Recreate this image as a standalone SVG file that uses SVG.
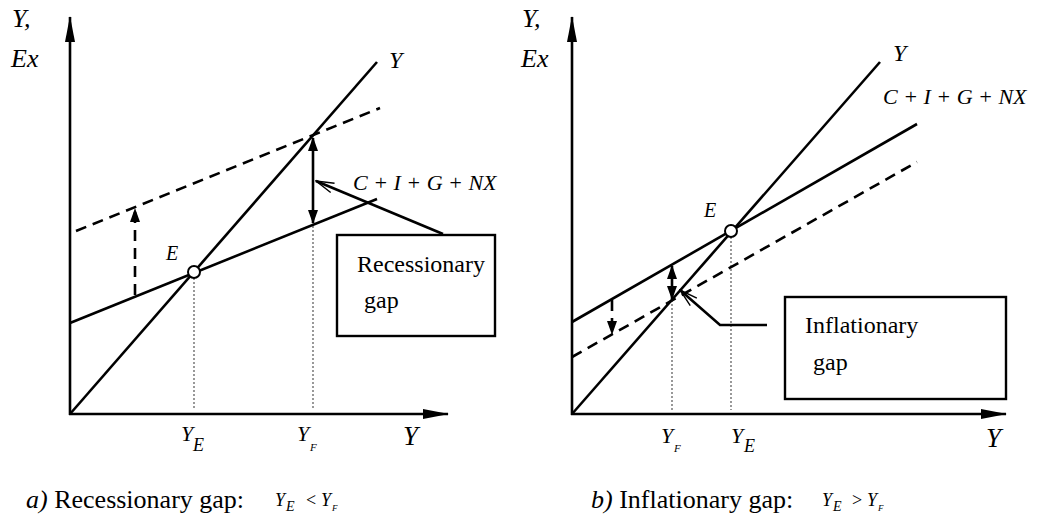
<svg xmlns="http://www.w3.org/2000/svg" width="1040" height="526" viewBox="0 0 1040 526" font-family="Liberation Serif, Times New Roman, DejaVu Serif, serif">
<defs>
<style>
.ax{stroke:#000;stroke-width:2.6;fill:none}
.ln{stroke:#000;stroke-width:2.6;fill:none}
.ds{stroke:#000;stroke-width:2.6;fill:none;stroke-dasharray:11 7}
.dt{stroke:#555;stroke-width:1.2;fill:none;stroke-dasharray:2 2}
.bx{stroke:#000;stroke-width:2.4;fill:#fff}
.mi{font-style:italic;fill:#000}
.rm{fill:#000}
</style>
<marker id="ah" viewBox="0 0 14 10" refX="13" refY="5" markerWidth="14" markerHeight="10" markerUnits="userSpaceOnUse" orient="auto-start-reverse">
<path d="M0,0 L14,5 L0,10 z" fill="#000"/>
</marker>
<marker id="ab" viewBox="0 0 26 10" refX="25" refY="5" markerWidth="26" markerHeight="10" markerUnits="userSpaceOnUse" orient="auto">
<path d="M0,0 L26,5 L0,10 z" fill="#000"/>
</marker>
<marker id="ap" viewBox="0 0 20 12" refX="19" refY="6" markerWidth="20" markerHeight="12" markerUnits="userSpaceOnUse" orient="auto">
<path d="M1,1 L19,6 L1,11" fill="none" stroke="#000" stroke-width="1.4"/>
</marker>
</defs>

<g id="connectors">
<line class="ax" x1="70" y1="415" x2="70" y2="17" marker-end="url(#ab)"/>
<line class="ax" x1="69" y1="414" x2="448" y2="414" marker-end="url(#ab)"/>
<line class="dt" x1="194" y1="278" x2="194" y2="410"/>
<line class="dt" x1="313" y1="226" x2="313" y2="410"/>
<line class="ln" x1="70" y1="414" x2="377" y2="62"/>
<line class="ln" x1="70" y1="323" x2="377" y2="199"/>
<line class="ds" x1="76" y1="231" x2="380" y2="108"/>
<line class="ln" x1="313" y1="138" x2="313" y2="223" marker-start="url(#ah)" marker-end="url(#ah)"/>
<line class="ds" x1="135" y1="295" x2="135" y2="209" stroke-dasharray="10 6" marker-end="url(#ah)"/>
<line class="ln" x1="443" y1="234" x2="316" y2="181" marker-end="url(#ap)"/>
<line class="ax" x1="572" y1="415" x2="572" y2="17" marker-end="url(#ab)"/>
<line class="ax" x1="571" y1="414" x2="1006" y2="414" marker-end="url(#ab)"/>
<line class="dt" x1="731" y1="237" x2="731" y2="410"/>
<line class="dt" x1="672" y1="300" x2="672" y2="410"/>
<line class="ln" x1="572" y1="414" x2="880" y2="62"/>
<line class="ln" x1="572" y1="322" x2="917" y2="124"/>
<line class="ds" x1="572" y1="357" x2="917" y2="162"/>
<line class="ln" x1="672" y1="266" x2="672" y2="299" marker-start="url(#ah)" marker-end="url(#ah)"/>
<line class="ds" x1="612" y1="300" x2="612" y2="334" stroke-dasharray="8 5" marker-end="url(#ah)"/>
<polyline class="ln" points="767,325 720,325 680,290" marker-end="url(#ap)"/>
</g>

<g id="node-E-left">
<circle cx="194" cy="272" r="6" fill="#fff" stroke="#000" stroke-width="2"/>
<text class="mi" x="166" y="260" font-size="20">E</text>
</g>
<g id="node-E-right">
<circle cx="731" cy="231" r="6" fill="#fff" stroke="#000" stroke-width="2"/>
<text class="mi" x="704" y="217" font-size="20">E</text>
</g>

<g id="box-recessionary">
<rect class="bx" x="337" y="235" width="158" height="101"/>
<text class="rm" x="357" y="272" font-size="24">Recessionary</text>
<text class="rm" x="364" y="308" font-size="24">gap</text>
</g>
<g id="box-inflationary">
<rect class="bx" x="785" y="297" width="221" height="102"/>
<text class="rm" x="805" y="333" font-size="24">Inflationary</text>
<text class="rm" x="813" y="370" font-size="24">gap</text>
</g>

<g id="labels-left">
<text class="mi" x="12" y="27" font-size="26">Y,</text>
<text class="mi" x="11" y="67" font-size="26">Ex</text>
<text class="mi" x="389" y="68" font-size="24">Y</text>
<text class="mi" x="353" y="190" font-size="22" xml:space="preserve">C + I + G + NX</text>
<text class="mi" x="181" y="441" font-size="22">Y</text>
<text class="mi" x="193" y="451" font-size="18">E</text>
<text class="mi" x="297" y="441" font-size="22">Y</text>
<text class="mi" x="310" y="451" font-size="11">F</text>
<text class="mi" x="403" y="445" font-size="27">Y</text>
</g>

<g id="labels-right">
<text class="mi" x="522" y="27" font-size="26">Y,</text>
<text class="mi" x="521" y="67" font-size="26">Ex</text>
<text class="mi" x="893" y="61" font-size="24">Y</text>
<text class="mi" x="883" y="104" font-size="22">C + I + G + NX</text>
<text class="mi" x="661" y="443" font-size="22">Y</text>
<text class="mi" x="674" y="452" font-size="11">F</text>
<text class="mi" x="731" y="443" font-size="22">Y</text>
<text class="mi" x="744" y="452" font-size="18">E</text>
<text class="mi" x="986" y="447" font-size="27">Y</text>
</g>

<g id="caption-a">
<text class="rm" x="26" y="508" font-size="26"><tspan font-style="italic">a)</tspan> Recessionary gap:</text>
<text class="mi" x="275" y="506" font-size="18">Y</text>
<text class="mi" x="286" y="511" font-size="14">E</text>
<text class="rm" x="306" y="506" font-size="18">&lt;</text>
<text class="mi" x="321" y="506" font-size="18">Y</text>
<text class="mi" x="332" y="511" font-size="9">F</text>
</g>
<g id="caption-b">
<text class="rm" x="591" y="508" font-size="26"><tspan font-style="italic">b)</tspan> Inflationary gap:</text>
<text class="mi" x="822" y="506" font-size="18">Y</text>
<text class="mi" x="833" y="511" font-size="14">E</text>
<text class="rm" x="852" y="506" font-size="18">&gt;</text>
<text class="mi" x="867" y="506" font-size="18">Y</text>
<text class="mi" x="878" y="511" font-size="9">F</text>
</g>
</svg>
